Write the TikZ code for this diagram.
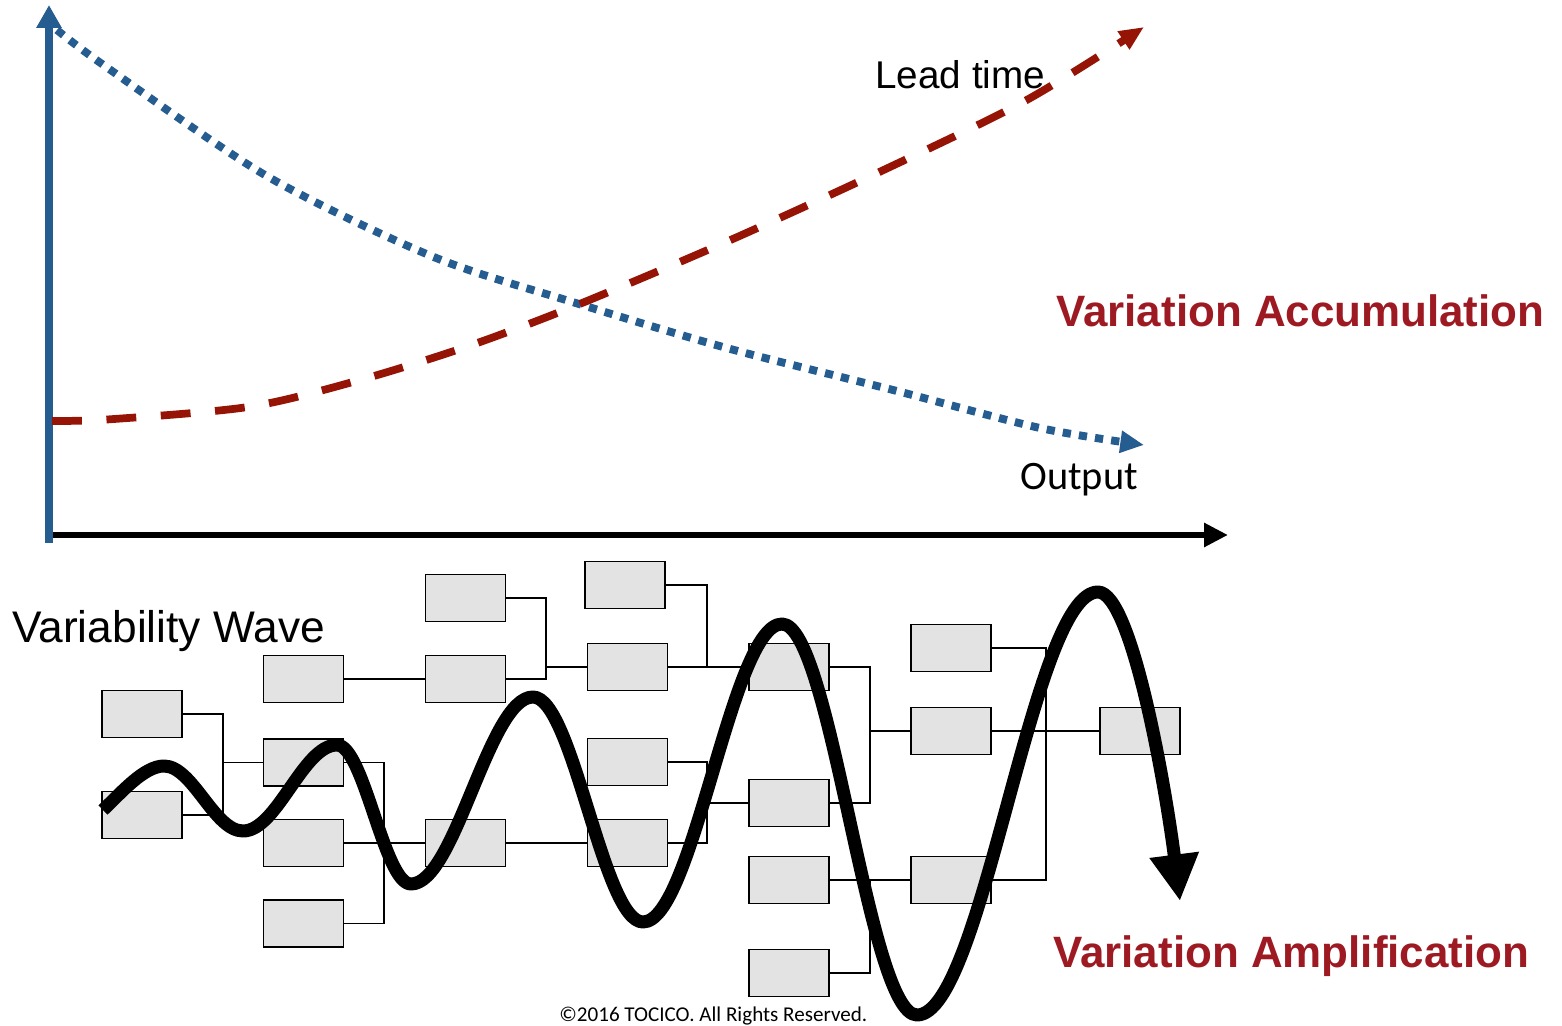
\documentclass[tikz,border=0pt]{standalone}
\usepackage{fontspec}
\setmainfont{Liberation Sans}
\newfontfamily\calfont{Carlito}
\usetikzlibrary{arrows.meta}

\definecolor{axisblue}{RGB}{38,93,145}
\definecolor{leadred}{RGB}{150,20,5}
\definecolor{titlered}{RGB}{158,26,34}
\definecolor{boxgray}{RGB}{227,227,227}

\tikzset{
  stagebox/.style={draw=black,line width=1.1pt,fill=boxgray,minimum width=1.6cm,minimum height=0.94cm,inner sep=0pt},
  flow/.style={line width=0.85pt},
  txt/.style={inner sep=0pt,anchor=base west},
  outdots/.style={axisblue,line width=4.5pt,dash pattern=on 4.7pt off 4.6pt,-{Triangle[length=13.5pt,width=12pt]}},
  leaddash/.style={leadred,line width=4.4pt,dash pattern=on 17pt off 14pt,-{Triangle[length=14pt,width=11.5pt]}},
}

\begin{document}
\begin{tikzpicture}[x=0.02cm,y=-0.02cm]
\useasboundingbox (0,0) rectangle (1562,1026);

% axes
\draw[line width=3.7pt,-{Triangle[length=13.6pt,width=13pt]}] (46,535) -- (1228,535);
\draw[line width=4.2pt,axisblue,-{Triangle[length=13pt,width=13.6pt]}] (49,543) -- (49,5);

% output and lead time
\draw[outdots] plot[smooth] coordinates {(57,30) (106.7,67.3) (266.7,176) (433,256.7) (576.7,303.3) (726.7,348) (893,390) (1040,428) (1144,445)};
\draw[leaddash] plot[smooth] coordinates {(52,421) (110,419.3) (250,406.7) (360,380) (466.7,346.7) (573,306.7) (726.7,241.7) (880,171.7) (1026.7,100) (1144,27)};

\node[txt,font=\fontsize{22pt}{26pt}\selectfont] (lead) at (875,89) {Lead time};
\node[txt,font=\calfont\fontsize{23pt}{27pt}\selectfont] (output) at (1020,490) {Output};
\node[txt,text=titlered,font=\bfseries\fontsize{25pt}{30pt}\selectfont] (accum) at (1056,327) {Variation Accumulation};
\node[txt,text=titlered,font=\bfseries\fontsize{25pt}{30pt}\selectfont] (ampl) at (1053,967) {Variation Amplification};
\node[txt,font=\fontsize{25.2pt}{30pt}\selectfont] (wave) at (12,643) {Variability Wave};
\node[txt,font=\calfont\fontsize{12pt}{14pt}\selectfont] (copy) at (559,1021) {©2016 TOCICO. All Rights Reserved.};

% process network
\node[stagebox] (a1) at (142,714) {};
\node[stagebox] (a2) at (142,815) {};
\node[stagebox] (b1) at (303.5,679) {};
\node[stagebox] (b2) at (303.5,762.5) {};
\node[stagebox] (b3) at (303.5,843) {};
\node[stagebox] (b4) at (303.5,923.5) {};
\node[stagebox] (c1) at (465.5,598) {};
\node[stagebox] (c2) at (465.5,679) {};
\node[stagebox] (c3) at (465.5,843) {};
\node[stagebox] (d1) at (625,585) {};
\node[stagebox] (d2) at (627.5,667) {};
\node[stagebox] (d3) at (627.5,762) {};
\node[stagebox] (d4) at (627.5,843) {};
\node[stagebox] (e1) at (789,667) {};
\node[stagebox] (e2) at (789,803) {};
\node[stagebox] (e3) at (789,880) {};
\node[stagebox] (e4) at (789,973) {};
\node[stagebox] (f1) at (951,648) {};
\node[stagebox] (f2) at (951,731) {};
\node[stagebox] (f3) at (951,880) {};
\node[stagebox] (g1) at (1140,731) {};

\coordinate (j1) at (223,762.5);
\coordinate (j2) at (384,843);
\coordinate (j3) at (546,667);
\coordinate (j4) at (707,667);
\coordinate (j5) at (707,803);
\coordinate (j6) at (870,731);
\coordinate (j7) at (870,880);
\coordinate (j8) at (1046,731);

\draw[flow] (a1.east) -| (j1) |- (a2.east);
\draw[flow] (j1) -- (b2.west);
\draw[flow] (b2.east) -| (j2) |- (b4.east);
\draw[flow] (b3.east) -- (c3.west);
\draw[flow] (b1.east) -- (c2.west);
\draw[flow] (c1.east) -| (j3) |- (c2.east);
\draw[flow] (j3) -- (d2.west);
\draw[flow] (c3.east) -- (d4.west);
\draw[flow] (d1.east) -| (j4);
\draw[flow] (d2.east) -- (e1.west);
\draw[flow] (d3.east) -| (j5) |- (d4.east);
\draw[flow] (j5) -- (e2.west);
\draw[flow] (e1.east) -| (j6) |- (e2.east);
\draw[flow] (j6) -- (f2.west);
\draw[flow] (e3.east) -- (f3.west);
\draw[flow] (e4.east) -| (j7);
\draw[flow] (f1.east) -| (j8) |- (f3.east);
\draw[flow] (f2.east) -- (g1.west);

% variability wave
\draw[line width=7.4pt,line join=round,-{Triangle[length=26.5pt,width=26.5pt]}]
  (103,810) .. controls (121,793) and (144,766) .. (164,766)
  .. controls (192.8,766) and (214.2,831) .. (243,831)
  .. controls (277.2,831) and (302.8,745) .. (337,745)
  .. controls (363.9,745) and (384.1,884) .. (411,884)
  .. controls (455.4,884) and (488.6,697) .. (533,697)
  .. controls (573,697) and (603,922) .. (643,922)
  .. controls (693.6,922) and (731.4,624) .. (782,624)
  .. controls (831.1,624) and (867.9,1015) .. (917,1015)
  .. controls (982.9,1015) and (1032.1,592) .. (1098,592)
  .. controls (1132,592) and (1166,790) .. (1180,901);
\end{tikzpicture}
\end{document}
